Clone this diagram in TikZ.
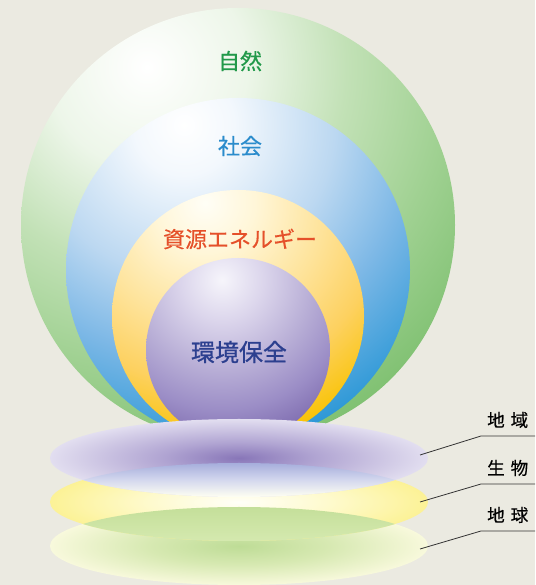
\documentclass[tikz,border=0pt]{standalone}
\usepackage{fontspec}
\newfontfamily\cjk[FakeBold=0.4]{Noto Sans CJK JP}
\newfontfamily\cjkb[FakeBold=0.9]{Noto Sans CJK JP}
\newfontfamily\cjks[FakeBold=0.5]{Noto Sans CJK JP}
\definecolor{bgc}{HTML}{EBEAE1}
\definecolor{txtgreen}{HTML}{22994A}
\definecolor{txtblue}{HTML}{2B8CCC}
\definecolor{txtorange}{HTML}{E5502A}
\definecolor{txtnavy}{HTML}{2C3F8F}
\definecolor{leadc}{HTML}{333333}
\pgfdeclareradialshading{greenball}{\pgfpoint{0bp}{0bp}}{%
 color(0bp)=(white); color(6.25bp)=(rgb,255:red,237;green,246;blue,233);
 color(12.5bp)=(rgb,255:red,194;green,225;blue,182);
 color(18.75bp)=(rgb,255:red,160;green,209;blue,146);
 color(25bp)=(rgb,255:red,128;green,193;blue,114);
 color(50bp)=(rgb,255:red,128;green,193;blue,114)}
\pgfdeclareradialshading{blueball}{\pgfpoint{0bp}{0bp}}{%
 color(0bp)=(white); color(3.8bp)=(rgb,255:red,243;green,248;blue,253);
 color(11.4bp)=(rgb,255:red,188;green,216;blue,241);
 color(17.4bp)=(rgb,255:red,125;green,184;blue,230);
 color(25bp)=(rgb,255:red,42;green,151;blue,214);
 color(50bp)=(rgb,255:red,42;green,151;blue,214)}
\pgfdeclareradialshading{yellowball}{\pgfpoint{0bp}{0bp}}{%
 color(0bp)=(rgb,255:red,255;green,254;blue,246);
 color(5.1bp)=(rgb,255:red,255;green,246;blue,216);
 color(12.2bp)=(rgb,255:red,254;green,227;blue,154);
 color(18.4bp)=(rgb,255:red,253;green,209;blue,96);
 color(25bp)=(rgb,255:red,248;green,194;blue,0);
 color(50bp)=(rgb,255:red,248;green,194;blue,0)}
\pgfdeclareradialshading{purpleball}{\pgfpoint{0bp}{0bp}}{%
 color(0bp)=(rgb,255:red,246;green,245;blue,251);
 color(6.1bp)=(rgb,255:red,220;green,214;blue,236);
 color(13.6bp)=(rgb,255:red,184;green,174;blue,214);
 color(19.7bp)=(rgb,255:red,155;green,141;blue,198);
 color(25bp)=(rgb,255:red,126;green,108;blue,175);
 color(50bp)=(rgb,255:red,126;green,108;blue,175)}
\pgfdeclareradialshading{purpledisc}{\pgfpoint{0bp}{0bp}}{%
 color(0bp)=(rgb,255:red,136;green,118;blue,184);
 color(10bp)=(rgb,255:red,176;green,164;blue,210);
 color(25bp)=(rgb,255:red,226;green,222;blue,240);
 color(50bp)=(rgb,255:red,226;green,222;blue,240)}
\pgfdeclareradialshading{yellowdisc}{\pgfpoint{0bp}{0bp}}{%
 color(0bp)=(rgb,255:red,255;green,255;blue,248);
 color(12bp)=(rgb,255:red,254;green,250;blue,205);
 color(25bp)=(rgb,255:red,252;green,242;blue,150);
 color(50bp)=(rgb,255:red,252;green,242;blue,150)}
\pgfdeclareradialshading{greendisc}{\pgfpoint{0bp}{0bp}}{%
 color(0bp)=(rgb,255:red,190;green,220;blue,150);
 color(12bp)=(rgb,255:red,215;green,233;blue,178);
 color(25bp)=(rgb,255:red,248;green,249;blue,220);
 color(50bp)=(rgb,255:red,248;green,249;blue,220)}
\tikzset{
 mainlabel/.style={font=\cjk\fontsize{22}{22}\selectfont, inner sep=0pt},
 sidelabel/.style={font=\cjks\fontsize{17.5}{17.5}\selectfont, inner sep=0pt, anchor=west, text=black},
 leader/.style={draw=leadc, line width=0.8pt},
}
\begin{document}
\begin{tikzpicture}[x=1pt,y=1pt]
\useasboundingbox (0,0) rectangle (535,585);
\fill[bgc] (0,0) rectangle (535,585);
% nested circles
\begin{scope}
 \clip (238,360) circle (217);
 \shade[shading=greenball] (147,518) circle (400);
\end{scope}
\begin{scope}
 \clip (238,315) circle (172);
 \shade[shading=blueball] (184,460) circle (330);
\end{scope}
\begin{scope}
 \clip (238,269) circle (126);
 \shade[shading=yellowball] (205,382) circle (245);
\end{scope}
\begin{scope}
 \clip (238,235) circle (92);
 \shade[shading=purpleball] (222,305) circle (165);
\end{scope}
\node[mainlabel, text=txtgreen] (nature) at (240,524) {自然};
\node[mainlabel, text=txtblue] (society) at (240,439) {社会};
\node[mainlabel, text=txtorange] (resource) at (240,346) {資源エネルギー};
\node[mainlabel, text=txtnavy, font=\cjkb\fontsize{24}{24}\selectfont] (env) at (239,233) {環境保全};
% discs
\shade[shading=greendisc] (239,39) ellipse [x radius=189, y radius=39];
\shade[shading=yellowdisc] (239,83) ellipse [x radius=189, y radius=39];
\shade[shading=purpledisc] (239,127) ellipse [x radius=189, y radius=39];
\begin{scope}
 \clip (239,127) ellipse [x radius=189, y radius=39];
 \clip (239,83) ellipse [x radius=189, y radius=39];
 \shade[top color={rgb,255:red,166;green,174;blue,220}, bottom color={rgb,255:red,255;green,255;blue,242}, middle color={rgb,255:red,212;green,216;blue,238}]
   (50,88) rectangle (428,122);
\end{scope}
\begin{scope}
 \clip (239,83) ellipse [x radius=189, y radius=39];
 \clip (239,39) ellipse [x radius=189, y radius=39];
 \shade[top color={rgb,255:red,196;green,223;blue,154}, bottom color={rgb,255:red,213;green,233;blue,175}]
   (50,44) rectangle (428,78);
\end{scope}
% labels and leaders
\node[sidelabel] (region) at (487,165) {地\hspace{6pt}域};
\node[sidelabel] (life) at (487,117) {生\hspace{6pt}物};
\node[sidelabel] (earth) at (487,70) {地\hspace{6pt}球};
\coordinate (p1) at (420,130); \coordinate (k1) at (481,149); \coordinate (e1) at (535,149);
\coordinate (p2) at (420,83);  \coordinate (k2) at (481,101); \coordinate (e2) at (535,101);
\coordinate (p3) at (420,36);  \coordinate (k3) at (481,54);  \coordinate (e3) at (535,54);
\draw[leader] (p1) -- (k1) -- (e1);
\draw[leader] (p2) -- (k2) -- (e2);
\draw[leader] (p3) -- (k3) -- (e3);
\end{tikzpicture}
\end{document}
